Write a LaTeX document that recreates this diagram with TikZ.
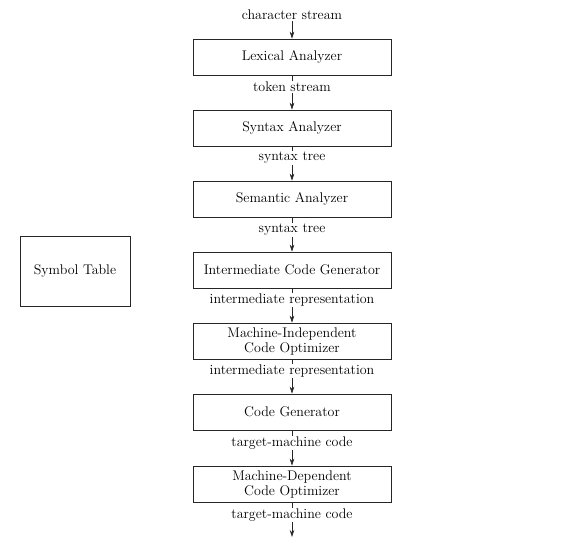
\documentclass[tikz,border=0pt]{standalone}
\usetikzlibrary{arrows.meta}
\begin{document}
\begin{tikzpicture}[x=1pt,y=-1pt,
  font=\fontsize{14}{15}\selectfont,
  phase/.style={draw=black!85, line width=0.6pt, minimum width=198pt, minimum height=36pt, inner sep=0pt, align=center},
  lbl/.style={inner sep=1pt},
  flow/.style={draw=black!85, line width=0.6pt, -{Stealth[length=7pt,width=4.5pt]}},
  link/.style={draw=black!85, line width=0.6pt}]
\useasboundingbox (0,0) rectangle (566,547);
\node[lbl] (l0) at (292,15) {character stream};
\node[phase] (lex) at (292,57) {Lexical Analyzer};
\node[lbl] (l1) at (292,87) {token stream};
\node[phase] (syn) at (292,128) {Syntax Analyzer};
\node[lbl] (l2) at (292,158) {syntax tree};
\node[phase] (sem) at (292,199) {Semantic Analyzer};
\node[lbl] (l3) at (292,230) {syntax tree};
\node[phase] (icg) at (292,270) {Intermediate Code Generator};
\node[lbl] (l4) at (292,300) {intermediate representation};
\node[phase] (mio) at (292,341) {Machine-Independent\\Code Optimizer};
\node[lbl] (l5) at (292,371) {intermediate representation};
\node[phase] (cg) at (292,412) {Code Generator};
\node[lbl] (l6) at (292,443) {target-machine code};
\node[phase] (mdo) at (292,484) {Machine-Dependent\\Code Optimizer};
\node[lbl] (l7) at (292,515) {target-machine code};
\coordinate (fin) at (292,537);
\node[draw=black!85, line width=0.6pt, minimum width=110pt, minimum height=70pt, inner sep=0pt] (st) at (75,271) {Symbol Table};
\draw[flow] (l0) -- (lex);
\draw[link] (lex) -- (l1);
\draw[flow] (l1) -- (syn);
\draw[link] (syn) -- (l2);
\draw[flow] (l2) -- (sem);
\draw[link] (sem) -- (l3);
\draw[flow] (l3) -- (icg);
\draw[link] (icg) -- (l4);
\draw[flow] (l4) -- (mio);
\draw[link] (mio) -- (l5);
\draw[flow] (l5) -- (cg);
\draw[link] (cg) -- (l6);
\draw[flow] (l6) -- (mdo);
\draw[link] (mdo) -- (l7);
\draw[flow] (l7) -- (fin);
\end{tikzpicture}
\end{document}
